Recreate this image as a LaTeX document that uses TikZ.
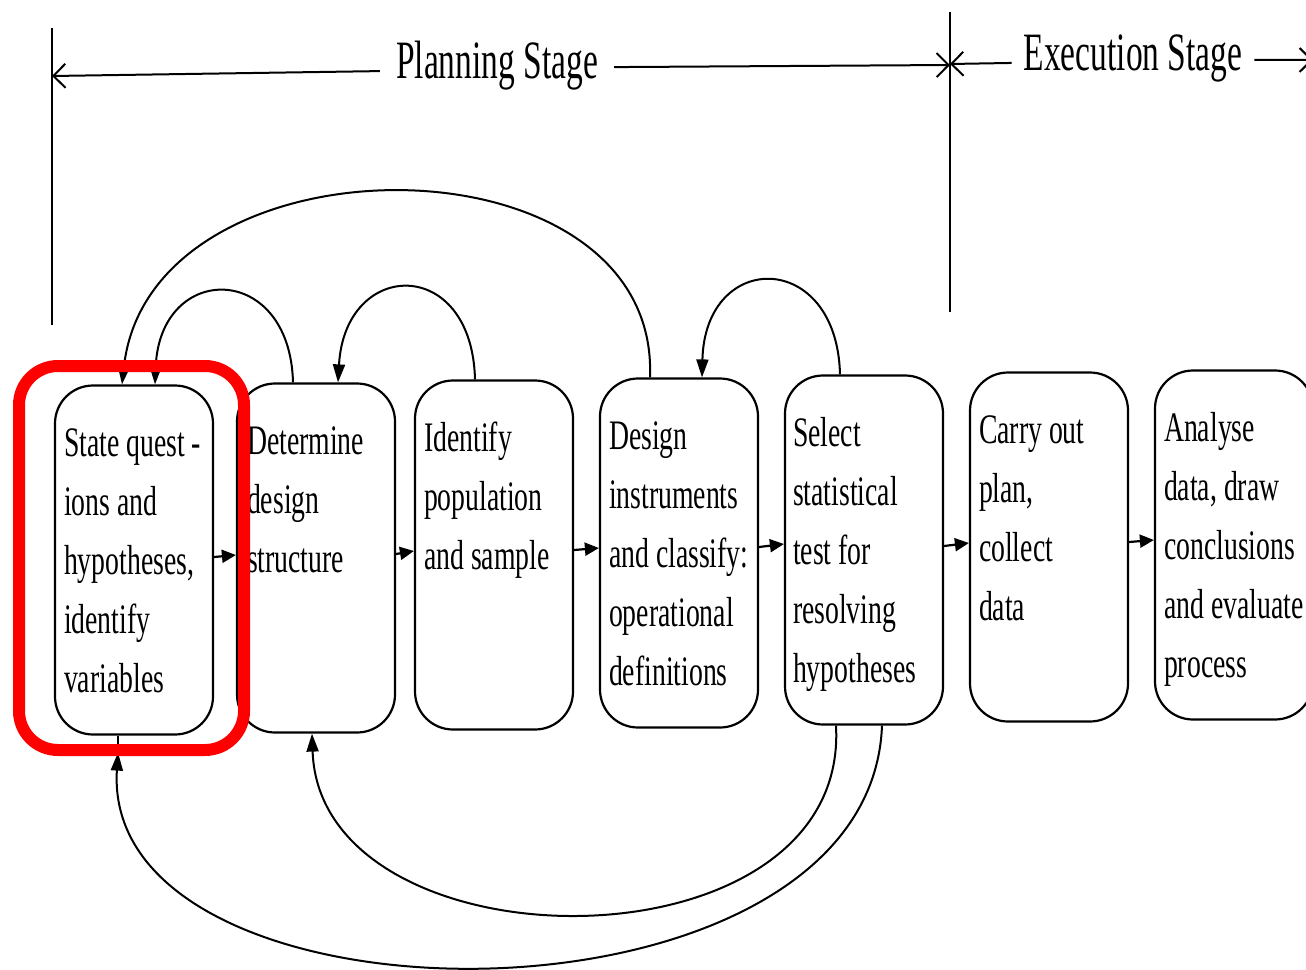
\documentclass[tikz,border=0pt]{standalone}
\usepackage{fontspec}
\setmainfont{Liberation Serif}
\newfontfamily\boxfont[FakeStretch=0.66]{Liberation Serif}
\newfontfamily\headfont[FakeStretch=0.62]{Liberation Serif}
\usetikzlibrary{arrows.meta,calc}
\newcommand\firststrut{\rule{0pt}{30pt}}

\begin{document}
\begin{tikzpicture}[x=1pt,y=-1pt,
  stagebox/.style={draw, line width=2.2pt, rounded corners=38pt,
    minimum width=158pt, minimum height=349pt, inner sep=0pt},
  boxtext/.style={anchor=north west, inner sep=0pt, align=left,
    font=\boxfont\fontsize{42}{59}\selectfont},
  flow/.style={line width=2.2pt, -{Triangle[length=14pt,width=13pt]}},
  loopback/.style={line width=2pt, -{Triangle[length=18pt,width=12pt]}},
  dimline/.style={line width=2pt,
    -{Straight Barb[length=12pt,width=24pt,line width=2pt]}},
  stage/.style={font=\headfont\fontsize{54}{60}\selectfont,
    inner xsep=16pt, inner ysep=0pt, anchor=base},
  highlight/.style={draw=red, line width=12pt, rounded corners=39pt,
    minimum width=225pt, minimum height=384pt}
]
\useasboundingbox (0,0) rectangle (1306,969);

% ---- stage boxes ----
\node[stagebox] (b1) at (134,560) {};
\node[stagebox] (b2) at (316,558) {};
\node[stagebox] (b3) at (494,555) {};
\node[stagebox] (b4) at (679,553) {};
\node[stagebox] (b5) at (864,550) {};
\node[stagebox] (b6) at (1049,547) {};
\node[stagebox] (b7) at (1234,545) {};

\node[boxtext] (t1) at ([xshift=10pt,yshift=-42pt]b1.north west)
  {\firststrut State quest\,-\\ions and\\hypotheses,\\identify\\variables};
\node[boxtext] (t2) at ([xshift=11pt,yshift=-42pt]b2.north west)
  {\firststrut Determine\\design\\structure};
\node[boxtext] (t3) at ([xshift=10pt,yshift=-42pt]b3.north west)
  {\firststrut Identify\\population\\and sample};
\node[boxtext] (t4) at ([xshift=10pt,yshift=-42pt]b4.north west)
  {\firststrut Design\\instruments\\and classify:\\operational\\definitions};
\node[boxtext] (t5) at ([xshift=9pt,yshift=-42pt]b5.north west)
  {\firststrut Select\\statistical\\test for\\resolving\\hypotheses};
\node[boxtext] (t6) at ([xshift=10pt,yshift=-42pt]b6.north west)
  {\firststrut Carry out\\plan,\\collect\\data};
\node[boxtext] (t7) at ([xshift=10pt,yshift=-42pt]b7.north west)
  {\firststrut Analyse\\data, draw\\conclusions\\and evaluate\\process};

% ---- forward flow ----
\draw[flow] ([yshift=3pt]b1.east) -- ([yshift=3pt]b2.west);
\draw[flow] ([yshift=4pt]b2.east) -- ([yshift=4pt]b3.west);
\draw[flow] ([yshift=5pt]b3.east) -- ([yshift=5pt]b4.west);
\draw[flow] ([yshift=6pt]b4.east) -- ([yshift=6pt]b5.west);
\draw[flow] ([yshift=4pt]b5.east) -- ([yshift=4pt]b6.west);
\draw[flow] ([yshift=5pt]b6.east) -- ([yshift=5pt]b7.west);

% ---- feedback loops above ----
\draw[loopback] ([xshift=-29pt]b4.north) .. controls +(10,-248) and +(28,-255) .. ([xshift=-12pt]b1.north);
\draw[loopback] ([xshift=-23pt]b2.north) .. controls +(-3,-121) and +(5,-123) .. ([xshift=21pt]b1.north);
\draw[loopback] ([xshift=-19pt]b3.north) .. controls +(-3,-124) and +(7,-124) .. ([xshift=22pt]b2.north);
\draw[loopback] ([xshift=-24pt]b5.north) .. controls +(-3,-125) and +(3,-128) .. ([xshift=23pt]b4.north);

% ---- feedback loops below ----
\draw[loopback] ([xshift=-28pt]b5.south) .. controls +(14,251) and +(8,240) .. ([xshift=-4pt]b2.south);
\coordinate (fend) at ([xshift=-16pt,yshift=-17pt]b1.south);
\draw[loopback] ([xshift=18pt]b5.south) .. controls +(-12,318) and +(-18,288) .. (fend);
\draw[line width=2pt] (fend) -- ([xshift=-16pt]b1.south);

% ---- stage markers ----
\coordinate (v1top) at (52,28);
\coordinate (v1bot) at (52,325);
\coordinate (v2top) at (950,12);
\coordinate (v2bot) at (950,312);
\draw[line width=2pt] (v1top) -- (v1bot);
\draw[line width=2pt] (v2top) -- (v2bot);

\node[stage] (plan) at (497,78) {Planning Stage};
\node[stage, inner xsep=12pt] (exec) at (1133,70) {Execution Stage};
\coordinate (planL) at (52,76);
\coordinate (planR) at (950,65);
\coordinate (execL) at (950,64);
\coordinate (execR) at (1313,60);
\draw[dimline] ([yshift=-6pt]plan.west) -- (planL);
\draw[dimline] ([yshift=-2pt]plan.east) -- (planR);
\draw[dimline] ([yshift=-5pt]exec.west) -- (execL);
\draw[dimline] ([yshift=-2pt]exec.east) -- (execR);

% ---- highlight around the first step ----
\node[highlight] (hl) at (131.5,558) {};
\end{tikzpicture}
\end{document}
